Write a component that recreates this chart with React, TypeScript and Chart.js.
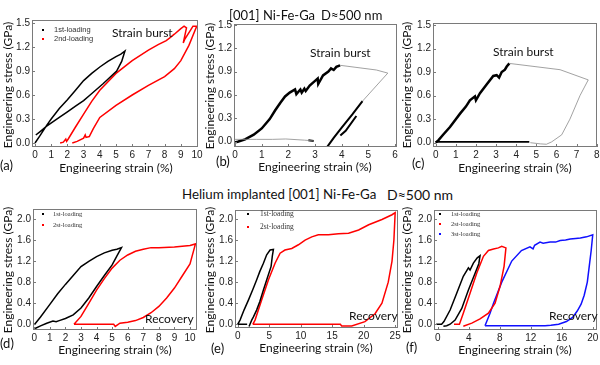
import React, { useEffect, useRef } from "react";
import { Chart, registerables } from "chart.js";
Chart.register(...registerables);

// ---------- tick values ----------
const TOP_Y_TICKS = [0, 0.3, 0.6, 0.9, 1.2, 1.5];
const BOT_Y_TICKS = [0, 0.4, 0.8, 1.2, 1.6, 2.0];
const A_X_TICKS = [0, 1, 2, 3, 4, 5, 6, 7, 8, 9, 10];
const B_X_TICKS = [0, 1, 2, 3, 4, 5, 6];
const C_X_TICKS = [0, 1, 2, 3, 4, 5, 6, 7, 8];
const D_X_TICKS = [0, 1, 2, 3, 4, 5, 6, 7, 8, 9, 10];
const E_X_TICKS = [0, 5, 10, 15, 20, 25];
const F_X_TICKS = [0, 4, 8, 12, 16, 20];

// ---------- panel (a) ----------
const A_BLACK_X = [0, 0.3, 0.72, 1.0, 1.5, 2.0, 2.5, 3.0, 3.5, 4.0, 4.5, 5.0, 5.3, 5.55, 5.35, 5.04, 4.2, 3.4, 3.0, 2.5, 2.0, 1.5, 0.72, 0.3, 0.05];
const A_BLACK_Y = [0, 0.09, 0.22, 0.3, 0.43, 0.54, 0.66, 0.78, 0.87, 0.95, 1.02, 1.08, 1.11, 1.15, 1.02, 0.9, 0.74, 0.6, 0.53, 0.46, 0.39, 0.32, 0.21, 0.14, 0.1];
const A_RED_X = [1.55, 1.75, 1.9, 1.95, 2.05, 2.5, 3.0, 3.5, 4.0, 5.0, 6.0, 7.0, 7.6, 8.1, 8.3, 8.6, 9.0, 9.2, 9.35, 9.15, 9.25, 9.6, 9.75, 9.98, 9.5, 9.0, 8.6, 8.0, 7.0, 6.0, 5.0, 4.0, 3.6, 3.35, 3.15, 3.1, 3.0, 2.6, 2.3];
const A_RED_Y = [0.0, 0.01, 0.05, 0.02, 0.05, 0.2, 0.36, 0.52, 0.66, 0.87, 1.03, 1.16, 1.23, 1.28, 1.31, 1.36, 1.43, 1.46, 1.44, 1.25, 1.3, 1.41, 1.46, 1.46, 1.22, 1.03, 0.93, 0.83, 0.72, 0.6, 0.47, 0.32, 0.18, 0.08, 0.07, 0.1, 0.06, 0.02, 0.0];

// ---------- panel (b) ----------
const B_LOAD_X = [-0.05, 0.1, 0.375, 0.7, 1.0, 1.3, 1.5, 1.7, 1.875, 2.05, 2.25, 2.3, 2.45, 2.5, 2.6, 2.65, 2.8, 3.0, 3.1, 3.12, 3.3, 3.5, 3.6, 3.7, 3.8, 3.94];
const B_LOAD_Y = [-0.01, 0.0, 0.03, 0.09, 0.17, 0.29, 0.4, 0.5, 0.58, 0.63, 0.67, 0.61, 0.67, 0.63, 0.68, 0.65, 0.72, 0.78, 0.81, 0.74, 0.85, 0.9, 0.94, 0.92, 0.96, 0.98];
const B_BURST_X = [3.94, 5.3, 5.73, 4.78];
const B_BURST_Y = [0.98, 0.92, 0.88, 0.52];
const B_UNLOAD_X = [4.78, 4.4, 4.0, 3.7, 3.45];
const B_UNLOAD_Y = [0.52, 0.35, 0.18, 0.05, -0.07];
const B_BUNDLE_X = [4.55, 4.15, 3.95];
const B_BUNDLE_Y = [0.33, 0.14, 0.08];
const B_RETURN_X = [2.95, 2.6, 1.9, 1.4, 0.8, 0.0, -0.05];
const B_RETURN_Y = [0.01, 0.02, 0.035, 0.03, 0.03, 0.03, 0.02];
const B_TAIL_X = [2.75, 2.95];
const B_TAIL_Y = [0.02, 0.01];

// ---------- panel (c) ----------
const C_LOAD_X = [0, 0.13, 0.4, 0.71, 1.0, 1.21, 1.5, 1.7, 1.95, 2.0, 2.2, 2.53, 2.86, 3.03, 3.15, 3.28, 3.44, 3.53, 3.66];
const C_LOAD_Y = [0, 0.03, 0.11, 0.2, 0.3, 0.37, 0.46, 0.54, 0.59, 0.54, 0.63, 0.74, 0.85, 0.86, 0.83, 0.9, 0.93, 0.97, 1.01];
const C_BURST_X = [3.66, 6.18, 7.58, 7.17, 6.67, 6.26, 5.76, 5.5, 5.2, 4.7];
const C_BURST_Y = [1.01, 0.93, 0.8, 0.6, 0.3, 0.1, 0.01, -0.02, -0.015, 0.0];
const C_RETURN_X = [4.65, 3.0, 1.5, 0.0];
const C_RETURN_Y = [0.01, 0.01, 0.01, 0.01];

// ---------- panel (d) ----------
const D_BLACK_X = [0, 0.4, 1.0, 1.5, 2.0, 2.5, 3.0, 3.5, 4.0, 4.5, 5.0, 5.3, 5.6, 5.3, 5.0, 4.5, 4.0, 3.5, 3.0, 2.5, 2.0, 1.6, 1.4, 1.2, 0.8, 0.4, 0.05];
const D_BLACK_Y = [-0.01, 0.14, 0.38, 0.58, 0.76, 0.93, 1.1, 1.2, 1.29, 1.36, 1.41, 1.43, 1.46, 1.3, 1.13, 0.93, 0.72, 0.5, 0.31, 0.18, 0.11, 0.07, 0.05, 0.06, 0.02, -0.03, -0.08];
const D_RED_X = [2.55, 3.0, 3.5, 4.0, 4.5, 5.0, 5.5, 6.0, 6.5, 7.0, 7.5, 8.0, 9.0, 10.0, 10.35, 10.0, 9.5, 9.0, 8.5, 8.0, 7.5, 7.0, 6.5, 6.0, 5.5, 5.2, 5.1, 4.0, 3.0, 2.55];
const D_RED_Y = [0.0, 0.15, 0.4, 0.65, 0.87, 1.07, 1.22, 1.32, 1.39, 1.43, 1.46, 1.46, 1.47, 1.5, 1.53, 1.15, 0.92, 0.69, 0.5, 0.34, 0.22, 0.13, 0.07, 0.04, 0.02, -0.04, 0.0, 0.0, 0.0, 0.0];

// ---------- panel (e) ----------
const E_BLACK_X = [1.5, 0.8, 0.0, 0.37, 1.0, 1.7, 2.4, 3.0, 3.5, 4.08, 4.6, 5.14, 5.67, 5.5, 5.3, 4.7, 4.08, 3.5, 3.0, 2.5, 2.22, 1.8];
const E_BLACK_Y = [0.0, 0.0, 0.0, 0.08, 0.27, 0.46, 0.66, 0.84, 1.0, 1.16, 1.32, 1.41, 1.42, 1.3, 1.1, 0.88, 0.65, 0.43, 0.27, 0.14, 0.08, -0.04];
const E_RED_X = [2.4, 2.75, 3.8, 4.87, 5.93, 6.73, 7.5, 8.58, 9.64, 10.7, 11.76, 12.8, 14.4, 16.0, 17.6, 19.2, 20.8, 22.9, 24.5, 25.0, 24.8, 24.5, 23.9, 22.9, 21.8, 20.2, 18.1, 16.5, 16.3, 10.0, 5.0, 2.4];
const E_RED_Y = [0.0, 0.08, 0.46, 0.84, 1.16, 1.35, 1.41, 1.44, 1.51, 1.6, 1.66, 1.7, 1.7, 1.72, 1.73, 1.79, 1.89, 1.99, 2.08, 2.12, 1.6, 1.2, 0.8, 0.4, 0.2, 0.05, -0.03, -0.03, 0.0, 0.0, 0.0, 0.0];

// ---------- panel (f) ----------
const F_BLACK_X = [-0.2, 0.5, 0.8, 1.6, 2.45, 3.3, 3.96, 4.17, 4.6, 5.1, 5.46, 5.3, 4.82, 3.96, 3.1, 2.24, 1.6, 1.16, 0.73];
const F_BLACK_Y = [0.0, 0.0, 0.05, 0.27, 0.59, 0.91, 1.07, 1.03, 1.16, 1.26, 1.3, 1.15, 0.97, 0.65, 0.3, 0.08, 0.0, -0.03, -0.04];
const F_RED_X = [2.1, 2.8, 3.3, 4.17, 5.03, 5.9, 6.54, 7.2, 7.83, 8.26, 8.8, 8.56, 8.04, 7.4, 6.54, 5.46, 4.4, 3.3];
const F_RED_Y = [0.0, 0.0, 0.21, 0.59, 0.97, 1.29, 1.4, 1.43, 1.45, 1.48, 1.45, 1.1, 0.72, 0.4, 0.21, 0.1, 0.02, -0.04];
const F_BLUE_X = [6.1, 6.75, 7.2, 8.26, 9.55, 10.8, 11.9, 12.3, 12.5, 13.2, 13.6, 14.5, 15.2, 15.8, 16.5, 17.1, 17.8, 18.4, 19.2, 20.0, 19.8, 19.6, 19.3, 18.9, 18.5, 18.0, 17.4, 16.6, 15.6, 14.6, 13.85, 10.0, 6.1];
const F_BLUE_Y = [-0.03, 0.21, 0.4, 0.8, 1.2, 1.4, 1.47, 1.43, 1.5, 1.56, 1.54, 1.56, 1.56, 1.59, 1.6, 1.62, 1.63, 1.64, 1.66, 1.7, 1.4, 1.16, 0.8, 0.55, 0.38, 0.25, 0.13, 0.05, 0.0, -0.02, -0.03, -0.03, -0.03];

const BLACK = "#000000";
const RED = "#ff0000";
const BLUE = "#1010ff";
const GRAY = "#8a8a8a";

type Series = { x: number[]; y: number[]; color: string; width: number };
type Box = { l: number; t: number; r: number; b: number };

const framePlugin = {
  id: "frame",
  afterDraw(chart: any) {
    const { ctx, chartArea: a } = chart;
    ctx.save();
    ctx.strokeStyle = "#7a7a7a";
    ctx.lineWidth = 1;
    ctx.strokeRect(a.left + 0.5, a.top + 0.5, a.right - a.left - 1, a.bottom - a.top - 1);
    const xs = chart.scales.x;
    const ys = chart.scales.y;
    ctx.beginPath();
    xs.ticks.forEach((t: any) => {
      const px = Math.round(xs.getPixelForValue(t.value)) + 0.5;
      ctx.moveTo(px, a.bottom);
      ctx.lineTo(px, a.bottom - 3);
    });
    ys.ticks.forEach((t: any) => {
      const py = Math.round(ys.getPixelForValue(t.value)) + 0.5;
      ctx.moveTo(a.left, py);
      ctx.lineTo(a.left + 3, py);
    });
    ctx.stroke();
    ctx.restore();
  },
};

const TICK_FONT = { family: "'Liberation Sans', Arial, sans-serif", size: 10 };

function Panel(props: {
  box: Box;
  xMin: number;
  xMax: number;
  yMin: number;
  yMax: number;
  xTicks: number[];
  yTicks: number[];
  series: Series[];
}) {
  const ref = useRef<HTMLCanvasElement>(null);
  const { box } = props;
  const YW = 26, XH = 16, PT = 5, PR = 6;
  const left = box.l - YW;
  const top = box.t - PT;
  const width = box.r - box.l + YW + PR;
  const height = box.b - box.t + PT + XH;
  useEffect(() => {
    const chart = new Chart(ref.current as HTMLCanvasElement, {
      type: "scatter",
      data: {
        datasets: props.series.map((s) => ({
          data: s.x.map((x, i) => ({ x, y: s.y[i] })),
          showLine: true,
          borderColor: s.color,
          backgroundColor: s.color,
          borderWidth: s.width,
          pointRadius: 0,
          tension: 0,
          fill: false,
        })),
      },
      options: {
        responsive: false,
        animation: false,
        events: [],
        layout: { padding: { top: PT, right: PR, left: 0, bottom: 0 }, autoPadding: false },
        plugins: { legend: { display: false }, tooltip: { enabled: false } },
        scales: {
          x: {
            type: "linear",
            min: props.xMin,
            max: props.xMax,
            afterBuildTicks: (s: any) => {
              s.ticks = props.xTicks.map((v) => ({ value: v }));
            },
            afterFit: (s: any) => {
              s.height = XH;
              s.paddingLeft = 0;
              s.paddingRight = 0;
            },
            grid: { display: false, drawTicks: false },
            border: { display: false },
            ticks: {
              font: TICK_FONT,
              color: "#222",
              padding: 2,
              maxRotation: 0,
              autoSkip: false,
              callback: (v: any) => String(v),
            },
          },
          y: {
            type: "linear",
            min: props.yMin,
            max: props.yMax,
            afterBuildTicks: (s: any) => {
              s.ticks = props.yTicks.map((v) => ({ value: v }));
            },
            afterFit: (s: any) => {
              s.width = YW;
              s.paddingTop = 0;
              s.paddingBottom = 0;
            },
            grid: { display: false, drawTicks: false },
            border: { display: false },
            ticks: {
              font: TICK_FONT,
              color: "#222",
              padding: 2,
              autoSkip: false,
              callback: (v: any) => Number(v).toFixed(1),
            },
          },
        },
      } as any,
      plugins: [framePlugin],
    });
    return () => chart.destroy();
  }, []);
  return (
    <canvas
      ref={ref}
      width={width}
      height={height}
      style={{ position: "absolute", left, top, width, height }}
    />
  );
}

const SANS = "Lato, 'Open Sans', sans-serif";
const SERIF = "'Liberation Serif', 'DejaVu Serif', serif";

function Txt(props: {
  text: string;
  x: number;
  y: number;
  size: number;
  family?: string;
  center?: boolean;
  rotate?: boolean;
  color?: string;
}) {
  const { text, x, y, size, family = SANS, center, rotate, color = "#111" } = props;
  let transform = center ? "translate(-50%, -50%)" : "translate(0, -50%)";
  if (rotate) transform = "translate(-50%, -50%) rotate(-90deg)";
  return (
    <div
      style={{
        position: "absolute",
        left: x,
        top: y,
        transform,
        whiteSpace: "pre",
        lineHeight: 1,
        fontFamily: family,
        fontSize: size,
        color,
      }}
    >
      {text}
    </div>
  );
}

function Marker(props: { x: number; y: number; color: string }) {
  return (
    <div
      style={{
        position: "absolute",
        left: props.x - 1,
        top: props.y - 1,
        width: 2,
        height: 2,
        background: props.color,
      }}
    />
  );
}

export default function App() {
  const YT = "Engineering stress (GPa)";
  const XT = "Engineering strain (%)";
  return (
    <div
      style={{
        position: "absolute",
        left: 0,
        top: 0,
        width: 600,
        height: 365,
        background: "#fff",
        overflow: "hidden",
      }}
    >
      <Panel
        box={{ l: 32, t: 20, r: 198, b: 147 }}
        xMin={-0.185}
        xMax={10.06}
        yMin={-0.05}
        yMax={1.5375}
        xTicks={A_X_TICKS}
        yTicks={TOP_Y_TICKS}
        series={[
          { x: A_BLACK_X, y: A_BLACK_Y, color: BLACK, width: 1.5 },
          { x: A_RED_X, y: A_RED_Y, color: RED, width: 1.5 },
        ]}
      />
      <Panel
        box={{ l: 234, t: 24, r: 397, b: 147 }}
        xMin={-0.04}
        xMax={6.075}
        yMin={-0.068}
        yMax={1.51}
        xTicks={B_X_TICKS}
        yTicks={TOP_Y_TICKS}
        series={[
          { x: B_RETURN_X, y: B_RETURN_Y, color: GRAY, width: 0.8 },
          { x: B_BURST_X, y: B_BURST_Y, color: GRAY, width: 0.8 },
          { x: B_LOAD_X, y: B_LOAD_Y, color: BLACK, width: 2.5 },
          { x: B_UNLOAD_X, y: B_UNLOAD_Y, color: BLACK, width: 2 },
          { x: B_BUNDLE_X, y: B_BUNDLE_Y, color: BLACK, width: 2 },
          { x: B_TAIL_X, y: B_TAIL_Y, color: BLACK, width: 2 },
        ]}
      />
      <Panel
        box={{ l: 433, t: 23, r: 597, b: 147 }}
        xMin={-0.134}
        xMax={8.015}
        yMin={-0.055}
        yMax={1.525}
        xTicks={C_X_TICKS}
        yTicks={TOP_Y_TICKS}
        series={[
          { x: C_BURST_X, y: C_BURST_Y, color: GRAY, width: 0.8 },
          { x: C_RETURN_X, y: C_RETURN_Y, color: BLACK, width: 1.8 },
          { x: C_LOAD_X, y: C_LOAD_Y, color: BLACK, width: 2.5 },
        ]}
      />
      <Panel
        box={{ l: 33, t: 209, r: 197, b: 330 }}
        xMin={-0.083}
        xMax={10.45}
        yMin={-0.109}
        yMax={2.196}
        xTicks={D_X_TICKS}
        yTicks={BOT_Y_TICKS}
        series={[
          { x: D_BLACK_X, y: D_BLACK_Y, color: BLACK, width: 1.5 },
          { x: D_RED_X, y: D_RED_Y, color: RED, width: 1.5 },
        ]}
      />
      <Panel
        box={{ l: 235, t: 210, r: 398, b: 328 }}
        xMin={-0.43}
        xMax={25.45}
        yMin={-0.07}
        yMax={2.17}
        xTicks={E_X_TICKS}
        yTicks={BOT_Y_TICKS}
        series={[
          { x: E_BLACK_X, y: E_BLACK_Y, color: BLACK, width: 1.5 },
          { x: E_RED_X, y: E_RED_Y, color: RED, width: 1.5 },
        ]}
      />
      <Panel
        box={{ l: 434, t: 210, r: 597, b: 330 }}
        xMin={-0.48}
        xMax={20.55}
        yMin={-0.11}
        yMax={2.17}
        xTicks={F_X_TICKS}
        yTicks={BOT_Y_TICKS}
        series={[
          { x: F_BLACK_X, y: F_BLACK_Y, color: BLACK, width: 1.5 },
          { x: F_RED_X, y: F_RED_Y, color: RED, width: 1.5 },
          { x: F_BLUE_X, y: F_BLUE_Y, color: BLUE, width: 1.5 },
        ]}
      />

      {/* titles */}
      <Txt text="[001] Ni-Fe-Ga" x={229} y={15} size={13} />
      <Txt text="D≈500 nm" x={321} y={15} size={13} />
      <Txt text="Helium implanted [001] Ni-Fe-Ga" x={182} y={195} size={13.3} />
      <Txt text="D≈500 nm" x={387} y={195} size={14} />

      {/* axis titles */}
      <Txt text={YT} x={8} y={85} size={12} rotate />
      <Txt text={XT} x={116} y={168} size={12} center />
      <Txt text={YT} x={210} y={86} size={12} rotate />
      <Txt text={XT} x={315} y={167} size={12} center />
      <Txt text={YT} x={407} y={85} size={12} rotate />
      <Txt text={XT} x={515} y={168} size={12} center />
      <Txt text={YT} x={8} y={270} size={12} rotate />
      <Txt text={XT} x={115} y={350} size={12} center />
      <Txt text={YT} x={210} y={270} size={12} rotate />
      <Txt text={XT} x={316} y={348} size={12} center />
      <Txt text={YT} x={407} y={270} size={12} rotate />
      <Txt text={XT} x={515} y={350} size={12} center />

      {/* panel letters */}
      <Txt text="(a)" x={0} y={165} size={13} />
      <Txt text="(b)" x={216} y={161} size={13} />
      <Txt text="(c)" x={412} y={163} size={13} />
      <Txt text="(d)" x={0} y={343} size={13} />
      <Txt text="(e)" x={211} y={348} size={13} />
      <Txt text="(f)" x={406} y={347} size={13} />

      {/* annotations */}
      <Txt text="Strain burst" x={112} y={33} size={12} />
      <Txt text="Strain burst" x={310} y={53} size={12} />
      <Txt text="Strain burst" x={493} y={52} size={12} />
      <Txt text="Recovery" x={145} y={319} size={12} />
      <Txt text="Recovery" x={349} y={316} size={12} />
      <Txt text="Recovery" x={549} y={316} size={12} />

      {/* legends */}
      <Marker x={43} y={30} color={BLACK} />
      <Txt text="1st-loading" x={54} y={30} size={7.5} family="'Liberation Sans', Arial, sans-serif" color="#333" />
      <Marker x={43} y={39} color={RED} />
      <Txt text="2nd-loading" x={54} y={39} size={7.5} family="'Liberation Sans', Arial, sans-serif" color="#333" />

      <Marker x={43} y={214} color={BLACK} />
      <Txt text="1st-loading" x={53} y={214} size={6.5} family={SERIF} color="#333" />
      <Marker x={43} y={225} color={RED} />
      <Txt text="2st-loading" x={53} y={225} size={6.5} family={SERIF} color="#333" />

      <Marker x={248} y={214} color={BLACK} />
      <Txt text="1st-loading" x={260} y={214} size={7.5} family={SERIF} color="#333" />
      <Marker x={248} y={227} color={RED} />
      <Txt text="2st-loading" x={260} y={227} size={7.5} family={SERIF} color="#333" />

      <Marker x={440} y={214} color={BLACK} />
      <Txt text="1st-loading" x={451} y={214} size={6.5} family={SERIF} color="#333" />
      <Marker x={440} y={224} color={RED} />
      <Txt text="2st-loading" x={451} y={224} size={6.5} family={SERIF} color="#333" />
      <Marker x={440} y={234} color={BLUE} />
      <Txt text="3st-loading" x={451} y={234} size={6.5} family={SERIF} color="#333" />
    </div>
  );
}
